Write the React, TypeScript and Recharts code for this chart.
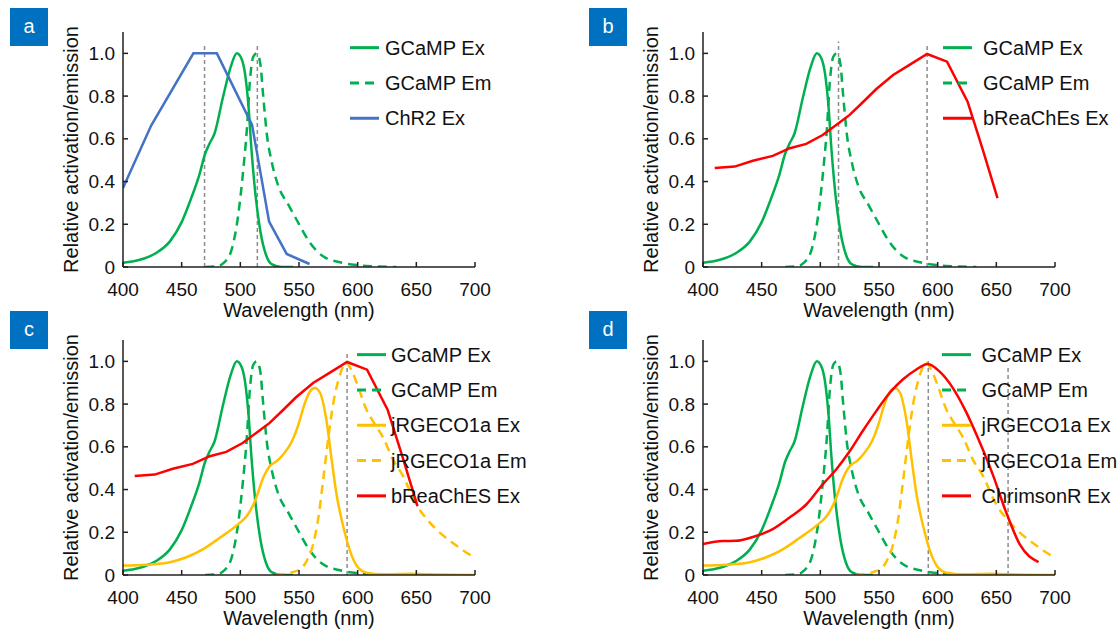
import { Legend, Line, LineChart, ReferenceLine, XAxis, YAxis } from 'recharts'

const FONT = 'Arial, "Liberation Sans", sans-serif'
const GREEN = '#00B050'
const BLUE = '#4472C4'
const RED = '#FF0000'
const GOLD = '#FFC000'
const GREY = '#8C8C8C'
const AXIS = '#231F20'
const INK = '#111111'
const BADGE = '#0070C0'
const DASH = '9 6'

const X_TICKS = [400, 450, 500, 550, 600, 650, 700]
const Y_TICKS = [0, 0.2, 0.4, 0.6, 0.8, 1.0]

type Pt = [number, number]

// [wavelength nm, relative value]
const gcampEx: Pt[] = [
  [400, 0.02], [410, 0.028], [418, 0.04], [429, 0.068], [440, 0.12], [450, 0.21], [458, 0.32],
  [465, 0.43], [470, 0.53], [474, 0.58], [478, 0.625], [485, 0.79], [492, 0.94], [497, 1.0],
  [501, 0.975], [504, 0.905], [507, 0.75], [509.5, 0.55], [512.5, 0.36], [517, 0.17],
  [522, 0.055], [527, 0.012], [535, 0], [545, 0],
]
const gcampEm: Pt[] = [
  [470, 0], [480, 0.003], [486, 0.02], [492.5, 0.08], [498, 0.235], [502.5, 0.455], [505.5, 0.64],
  [508, 0.86], [511, 0.984], [514, 1.0], [517, 0.953], [519.5, 0.8], [522.5, 0.626], [527, 0.486],
  [532.5, 0.377], [541, 0.291], [549.5, 0.206], [559.5, 0.112], [570.5, 0.05], [585, 0.022],
  [599, 0.009], [616, 0.003], [633, 0],
]
const chr2Ex: Pt[] = [
  [400, 0.37], [424, 0.662], [460, 1.0], [480, 1.0], [510, 0.665], [524.5, 0.213], [539.5, 0.061], [559, 0.014],
]
const breachesEx: Pt[] = [
  [410, 0.463], [427, 0.47], [442.5, 0.497], [459.5, 0.52], [474, 0.556], [488, 0.576], [502, 0.618],
  [513.5, 0.665], [525, 0.712], [536, 0.77], [547.5, 0.832], [562, 0.899], [576, 0.946], [591, 0.997],
  [608, 0.961], [625.5, 0.774], [638.5, 0.548], [651, 0.322],
]
const jrgecoEx: Pt[] = [
  [400, 0.044], [420, 0.048], [440, 0.06], [454, 0.083], [468, 0.12], [482.5, 0.174], [498, 0.237],
  [505.5, 0.276], [512.5, 0.346], [519.5, 0.455], [525, 0.509], [531, 0.533], [536.5, 0.564],
  [544, 0.626], [549.5, 0.704], [555, 0.805], [559.5, 0.86], [563.5, 0.875], [568, 0.852],
  [573.5, 0.72], [578, 0.533], [582, 0.377], [588, 0.221], [593.5, 0.112], [600.5, 0.034],
  [607.5, 0.011], [622, 0.003], [645, 0.006], [659, 0.003], [700, 0],
]
const jrgecoEm: Pt[] = [
  [530, 0], [548, 0.019], [556.5, 0.065], [562, 0.143], [566.5, 0.268], [570.5, 0.44], [575, 0.642],
  [579, 0.797], [585, 0.938], [590, 0.995], [595, 0.955], [600.5, 0.88], [607, 0.78], [613, 0.72],
  [622, 0.64], [630, 0.54], [638, 0.47], [650, 0.33], [660, 0.255], [670, 0.198], [680, 0.155],
  [690, 0.115], [700, 0.08],
]
const chrimsonEx: Pt[] = [
  [400, 0.145], [417, 0.159], [428, 0.16], [442.5, 0.178], [456.5, 0.206], [473.5, 0.268], [488, 0.33],
  [502, 0.424], [513.5, 0.494], [525, 0.579], [536, 0.673], [547.5, 0.766], [559, 0.852], [570, 0.914],
  [581.5, 0.961], [591.5, 0.988], [601.5, 0.953], [613, 0.875], [624, 0.766], [635.5, 0.626],
  [647, 0.47], [658, 0.299], [670, 0.143], [686, 0.06],
]

// grey dashed marker lines: [wavelength, top]
const markersA: Pt[] = [[469.5, 1.047], [514.5, 1.047]]
const markersB: Pt[] = [[515.5, 1.055], [591, 1.04]]
const markersC: Pt[] = [[591, 1.04]]
const markersD: Pt[] = [[592, 1.01], [660, 0.97]]

interface Series {
  name: string
  color: string
  dashed: boolean
  curve: 'linear' | 'monotone'
  points: Pt[]
}

const S_GCAMP_EX: Series = { name: 'GCaMP Ex', color: GREEN, dashed: false, curve: 'monotone', points: gcampEx }
const S_GCAMP_EM: Series = { name: 'GCaMP Em', color: GREEN, dashed: true, curve: 'monotone', points: gcampEm }
const S_JR_EX: Series = { name: 'jRGECO1a Ex', color: GOLD, dashed: false, curve: 'monotone', points: jrgecoEx }
const S_JR_EM: Series = { name: 'jRGECO1a Em', color: GOLD, dashed: true, curve: 'monotone', points: jrgecoEm }

interface Panel {
  tag: string
  left: number
  top: number
  series: Series[]
  markers: Pt[]
  legend: { x: number; y: number; gap: number }
}

const PANELS: Panel[] = [
  {
    tag: 'a', left: 0, top: 0,
    series: [S_GCAMP_EX, S_GCAMP_EM, { name: 'ChR2 Ex', color: BLUE, dashed: false, curve: 'linear', points: chr2Ex }],
    markers: markersA,
    legend: { x: 350, y: 29.5, gap: 6 },
  },
  {
    tag: 'b', left: 580, top: 0,
    series: [S_GCAMP_EX, S_GCAMP_EM, { name: 'bReaChEs Ex', color: RED, dashed: false, curve: 'linear', points: breachesEx }],
    markers: markersB,
    legend: { x: 363, y: 29.5, gap: 11 },
  },
  {
    tag: 'c', left: 0, top: 308,
    series: [S_GCAMP_EX, S_GCAMP_EM, S_JR_EX, S_JR_EM, { name: 'bReaChES Ex', color: RED, dashed: false, curve: 'linear', points: breachesEx }],
    markers: markersC,
    legend: { x: 357, y: 28.5, gap: 5 },
  },
  {
    tag: 'd', left: 580, top: 308,
    series: [S_GCAMP_EX, S_GCAMP_EM, S_JR_EX, S_JR_EM, { name: 'ChrimsonR Ex', color: RED, dashed: false, curve: 'monotone', points: chrimsonEx }],
    markers: markersD,
    legend: { x: 362, y: 28.5, gap: 10.5 },
  },
]

const W = 559
const H = 327
const ROW = 35.3
const KEY_LEN = 29

function XTick(props: any) {
  const { x, y, payload } = props
  return (
    <g>
      <line x1={x} y1={y} x2={x} y2={y - 5} stroke={AXIS} strokeWidth={1.5} />
      <text x={x} y={y + 22} textAnchor="middle" dominantBaseline="central" fontSize={19} fontFamily={FONT} fill={INK}>
        {payload.value}
      </text>
    </g>
  )
}

function YTick(props: any) {
  const { x, y, payload } = props
  const v = Number(payload.value)
  return (
    <g>
      <line x1={x} y1={y} x2={x + 5} y2={y} stroke={AXIS} strokeWidth={1.5} />
      <text x={x - 8} y={y} textAnchor="end" dominantBaseline="central" fontSize={19} fontFamily={FONT} fill={INK}>
        {v === 0 ? '0' : v.toFixed(1)}
      </text>
    </g>
  )
}

function XTitle(props: any) {
  const vb = props.viewBox ?? { x: 123, y: 267, width: 352, height: 60 }
  return (
    <text x={vb.x + vb.width / 2} y={vb.y + 43} textAnchor="middle" dominantBaseline="central" fontSize={20} fontFamily={FONT} fill={INK}>
      Wavelength (nm)
    </text>
  )
}

function YTitle(props: any) {
  const vb = props.viewBox ?? { x: 0, y: 32, width: 123, height: 235 }
  const cx = vb.x + vb.width - 52
  const cy = vb.y + vb.height / 2
  return (
    <text x={cx} y={cy} transform={`rotate(-90 ${cx} ${cy})`} textAnchor="middle" dominantBaseline="central" fontSize={20} fontFamily={FONT} fill={INK}>
      Relative activation/emission
    </text>
  )
}

function KeyBox({ items, gap }: { items: Series[]; gap: number }) {
  return (
    <svg width={230} height={items.length * ROW} style={{ display: 'block', overflow: 'visible' }}>
      {items.map((s, i) => {
        const cy = ROW / 2 + i * ROW
        return (
          <g key={s.name}>
            <line x1={0} x2={KEY_LEN} y1={cy} y2={cy} stroke={s.color} strokeWidth={3} strokeDasharray={s.dashed ? DASH : undefined} />
            <text x={KEY_LEN + gap} y={cy} dominantBaseline="central" fontSize={20} fontFamily={FONT} fill={INK}>
              {s.name}
            </text>
          </g>
        )
      })}
    </svg>
  )
}

function SpectrumPanel({ panel }: { panel: Panel }) {
  return (
    <div style={{ position: 'absolute', left: panel.left, top: panel.top, width: W, height: H }}>
      <LineChart width={W} height={H} margin={{ top: 32, right: 84, bottom: 0, left: 0 }}>
        <XAxis
          type="number"
          dataKey="x"
          domain={[400, 700]}
          ticks={X_TICKS}
          interval={0}
          allowDataOverflow
          height={60}
          tickLine={false}
          tickSize={0}
          tickMargin={0}
          tick={<XTick />}
          axisLine={{ stroke: AXIS, strokeWidth: 1.5 }}
          label={<XTitle />}
        />
        <YAxis
          type="number"
          domain={[0, 1.1]}
          ticks={Y_TICKS}
          interval={0}
          allowDataOverflow
          width={123}
          tickLine={false}
          tickSize={0}
          tickMargin={0}
          tick={<YTick />}
          axisLine={{ stroke: AXIS, strokeWidth: 1.5 }}
          label={<YTitle />}
        />
        {panel.markers.map(([x, top]) => (
          <ReferenceLine
            key={x}
            segment={[{ x, y: 0 }, { x, y: top }]}
            stroke={GREY}
            strokeWidth={1.5}
            strokeDasharray="4 3"
          />
        ))}
        {panel.series.map((s) => (
          <Line
            key={s.name}
            name={s.name}
            data={s.points.map(([x, y]) => ({ x, y }))}
            dataKey="y"
            type={s.curve}
            stroke={s.color}
            strokeWidth={2.5}
            strokeDasharray={s.dashed ? DASH : undefined}
            dot={false}
            activeDot={false}
            isAnimationActive={false}
          />
        ))}
        <Legend
          layout="vertical"
          align="center"
          verticalAlign="middle"
          wrapperStyle={{ left: panel.legend.x, top: panel.legend.y, width: 230 }}
          content={() => <KeyBox items={panel.series} gap={panel.legend.gap} />}
        />
      </LineChart>
    </div>
  )
}

const BADGES = [
  { tag: 'a', left: 10, top: 8 },
  { tag: 'b', left: 589, top: 8 },
  { tag: 'c', left: 10, top: 311 },
  { tag: 'd', left: 589, top: 311 },
]

export default function App() {
  return (
    <div style={{ position: 'relative', width: 1118, height: 631, background: '#fff', fontFamily: FONT, overflow: 'hidden' }}>
      <style>{'body{margin:0}'}</style>
      {PANELS.map((p) => (
        <SpectrumPanel key={p.tag} panel={p} />
      ))}
      {BADGES.map((b) => (
        <div
          key={b.tag}
          style={{
            position: 'absolute',
            left: b.left,
            top: b.top,
            width: 38,
            height: 38,
            background: BADGE,
            color: '#fff',
            fontSize: 20,
            lineHeight: '36px',
            textAlign: 'center',
          }}
        >
          {b.tag}
        </div>
      ))}
    </div>
  )
}
